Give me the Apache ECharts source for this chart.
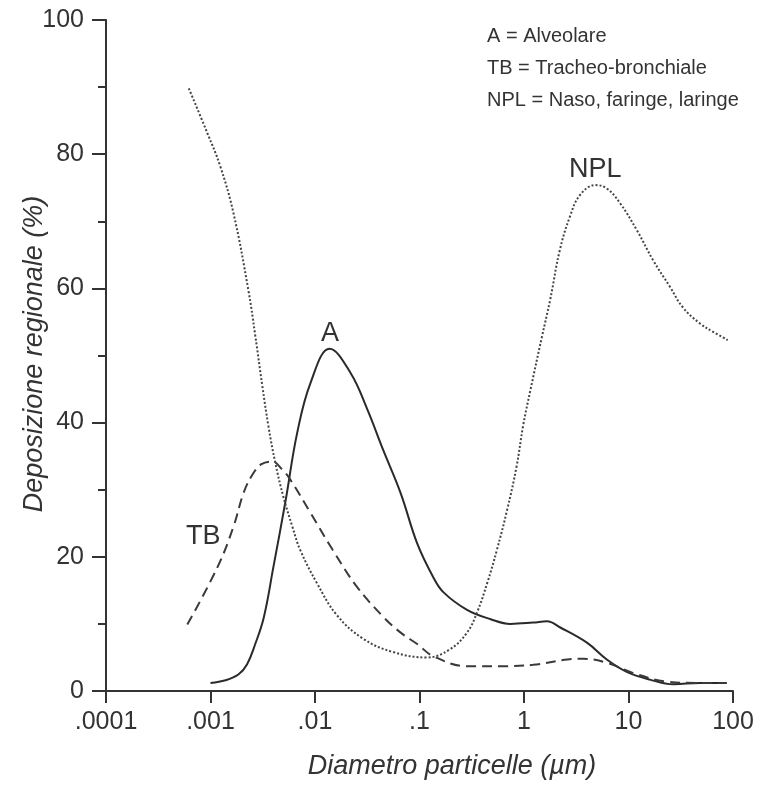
<!DOCTYPE html>
<html>
<head>
<meta charset="utf-8">
<script src="https://cdn.jsdelivr.net/npm/echarts@6/dist/echarts.min.js"></script>
<style>
html,body{margin:0;padding:0;background:#fff;}
#chart{width:769px;height:786px;}
</style>
</head>
<body>
<div id="chart"></div>
<script>
// Tick labels
const xTickLabels = ['.0001', '.001', '.01', '.1', '1', '10', '100'];
const yTickValues = [0, 20, 40, 60, 80, 100];

// A = Alveolare (solid)
const aX = [0.001, 0.00139, 0.00186, 0.00224, 0.00268, 0.00324, 0.0040, 0.00525, 0.00676, 0.0091, 0.0138, 0.0219, 0.0316, 0.0447, 0.066, 0.095, 0.135, 0.17, 0.285, 0.48, 0.74, 1.22, 1.66, 2.2, 4.0, 6.2, 9.5, 16, 27, 48, 87];
const aY = [1.2, 1.6, 2.5, 4.0, 7.0, 11, 18.5, 28.5, 38.5, 46, 51, 47.4, 42, 36, 29.5, 22, 17, 14.7, 12.1, 10.7, 10.0, 10.2, 10.4, 9.5, 7.2, 4.7, 2.9, 1.7, 1.0, 1.2, 1.2];

// TB = Tracheo-bronchiale (dashed)
const tbX = [0.0006, 0.00117, 0.00166, 0.00207, 0.00251, 0.00307, 0.0039, 0.00486, 0.0058, 0.0091, 0.0148, 0.025, 0.0447, 0.066, 0.095, 0.135, 0.285, 0.59, 1.22, 2.6, 3.7, 6.2, 11, 23.5, 48, 87];
const tbY = [9.9, 18.5, 24.5, 29.5, 32.2, 33.8, 34.2, 33.0, 31.5, 26.5, 21, 15.6, 11.1, 8.7, 7.0, 5.2, 3.7, 3.7, 3.9, 4.7, 4.8, 4.2, 2.7, 1.4, 1.2, 1.2];

// NPL = Naso, faringe, laringe (dotted)
const nplX = [0.00062, 0.00093, 0.00124, 0.00166, 0.0023, 0.00268, 0.00313, 0.00358, 0.00417, 0.00497, 0.00607, 0.00723, 0.0105, 0.0162, 0.0288, 0.056, 0.117, 0.195, 0.285, 0.355, 0.447, 0.55, 0.69, 0.85, 0.98, 1.15, 1.48, 1.78, 2.2, 2.75, 3.43, 4.8, 6.2, 8.3, 12, 17.2, 25, 33, 48, 65, 89];
const nplY = [89.8, 83.2, 78.2, 71.2, 59.8, 53, 45.5, 39.5, 34, 29, 24.5, 21, 16, 11.3, 7.8, 5.8, 5.0, 6.2, 8.7, 11.7, 16.2, 21, 27, 33.5, 39.5, 44.8, 52.7, 58.3, 65.7, 70.7, 73.9, 75.4, 74.9, 72.7, 68.7, 64.2, 60.2, 57.2, 54.8, 53.5, 52.3];

const legendLines = ['A = Alveolare', 'TB = Tracheo-bronchiale', 'NPL = Naso, faringe, laringe'];
const xTitle = 'Diametro particelle (\u00b5m)';
const yTitle = 'Deposizione regionale (%)';

function zip(xs, ys) { return xs.map((x, i) => [x, ys[i]]); }

const FONT = '"Liberation Sans", Arial, sans-serif';
const INK = '#333';

const chart = echarts.init(document.getElementById('chart'), null, {renderer: 'canvas'});
chart.setOption({
  animation: false,
  backgroundColor: '#fff',
  grid: {left: 106, right: 36, top: 20, bottom: 95, containLabel: false, outerBoundsMode: 'none'},
  xAxis: {
    type: 'log', logBase: 10, min: 0.0001, max: 100, interval: 1,
    axisLine: {show: true, lineStyle: {color: INK, width: 2}},
    axisTick: {show: true, length: 12, lineStyle: {color: INK, width: 2}},
    minorTick: {show: false},
    splitLine: {show: false},
    axisLabel: {
      fontFamily: FONT, fontSize: 25, color: INK, margin: 19,
      formatter: function (v) { const i = Math.round(Math.log10(v)) + 4; return xTickLabels[i] || ''; }
    }
  },
  yAxis: {
    type: 'value', min: 0, max: 100, interval: 20,
    axisLine: {show: true, lineStyle: {color: INK, width: 2}},
    axisTick: {show: true, length: 14, lineStyle: {color: INK, width: 2}},
    minorTick: {show: true, splitNumber: 2, length: 8, lineStyle: {color: INK, width: 2}},
    splitLine: {show: false},
    axisLabel: {fontFamily: FONT, fontSize: 25, color: INK, margin: 22,
      formatter: function (v) { return yTickValues.indexOf(v) >= 0 ? String(v) : ''; }}
  },
  series: [
    {name: 'A', type: 'line', data: zip(aX, aY), showSymbol: false, smooth: 0.4,
     lineStyle: {color: '#2a2a2a', width: 2, type: 'solid'}},
    {name: 'TB', type: 'line', data: zip(tbX, tbY), showSymbol: false, smooth: 0.4,
     lineStyle: {color: '#3a3a3a', width: 2, type: [10, 6]}},
    {name: 'NPL', type: 'line', data: zip(nplX, nplY), showSymbol: false, smooth: 0.4,
     lineStyle: {color: '#444', width: 2, type: [2, 2]}}
  ],
  graphic: [
    {type: 'text', x: 452, y: 766, style: {text: xTitle, font: 'italic 27px ' + FONT, fill: INK, textAlign: 'center', textVerticalAlign: 'middle'}},
    {type: 'text', x: 34, y: 354, rotation: Math.PI / 2, style: {text: yTitle, font: 'italic 27px ' + FONT, fill: INK, textAlign: 'center', textVerticalAlign: 'middle'}},
    {type: 'text', left: 487, top: 26, style: {text: legendLines[0], font: '20px ' + FONT, fill: INK}},
    {type: 'text', left: 487, top: 58, style: {text: legendLines[1], font: '20px ' + FONT, fill: INK}},
    {type: 'text', left: 487, top: 90, style: {text: legendLines[2], font: '20px ' + FONT, fill: INK}},
    {type: 'text', left: 569, top: 156, style: {text: 'NPL', font: '27px ' + FONT, fill: INK}},
    {type: 'text', left: 321, top: 320, style: {text: 'A', font: '27px ' + FONT, fill: INK}},
    {type: 'text', left: 186, top: 523, style: {text: 'TB', font: '27px ' + FONT, fill: INK}}
  ]
});
</script>
</body>
</html>
